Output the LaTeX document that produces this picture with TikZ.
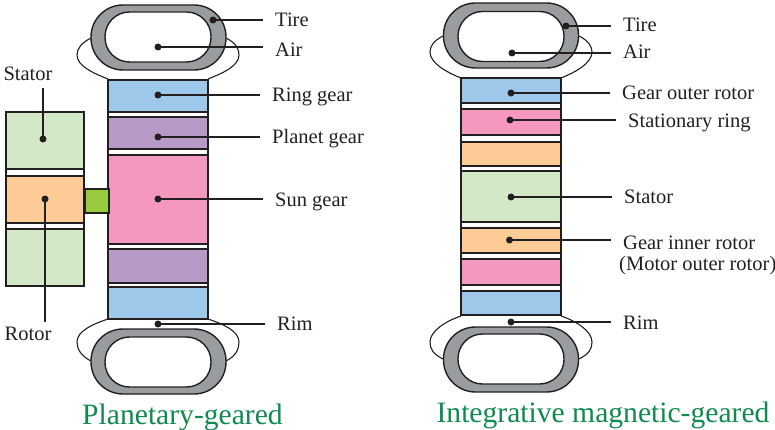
\documentclass[tikz,border=0pt]{standalone}
\usepackage{fontspec}
\setmainfont{Liberation Serif}
\usetikzlibrary{positioning,calc}

\definecolor{inkgray}{HTML}{231F20}
\definecolor{tiregray}{HTML}{9A9DA0}
\definecolor{ringblue}{HTML}{9DC8EA}
\definecolor{planetpurple}{HTML}{B89AC8}
\definecolor{sunpink}{HTML}{F498C0}
\definecolor{statorgreen}{HTML}{D3E8C6}
\definecolor{rotororange}{HTML}{FDCB95}
\definecolor{shaftgreen}{HTML}{99CC3C}
\definecolor{titlegreen}{HTML}{108A50}

\tikzset{
  blockbox/.style={draw=inkgray, line width=1.4pt, inner sep=0pt, minimum width=100pt},
  heavybox/.style={blockbox, line width=1.9pt},
  sidebox/.style={draw=inkgray, line width=1.3pt, inner sep=0pt, minimum width=78pt},
  tirebox/.style={draw=inkgray, line width=1.4pt, fill=tiregray, inner sep=0pt, rounded corners=32pt, minimum width=135pt, minimum height=65pt},
  airbox/.style={draw=inkgray, line width=1.4pt, fill=white, inner sep=0pt, rounded corners=24.5pt, minimum width=106pt, minimum height=50pt},
  flange/.style={draw=inkgray, line width=1.1pt},
  dotmark/.style={circle, fill=inkgray, inner sep=0pt, minimum size=7pt},
  leader/.style={draw=inkgray, line width=1.1pt},
  partlabel/.style={anchor=west, inner ysep=0pt, inner xsep=12pt, text=inkgray, font=\fontsize{20.5}{24}\selectfont, text height=16pt, text depth=2pt},
  sidelabel/.style={inner sep=0pt, text=inkgray, font=\fontsize{20.5}{24}\selectfont},
  titlelabel/.style={inner sep=0pt, text=titlegreen, font=\fontsize{29.6}{32}\selectfont}
}

\begin{document}
\begin{tikzpicture}[x=1pt,y=-1pt]
  \useasboundingbox (0,0) rectangle (775,430);

  % Planetary-geared: rim flanges
  \draw[flange] (91,38) .. controls (81,43) and (77,49) .. (77,55) .. controls (77,66) and (93,73) .. (108,79);
  \draw[flange] (226,38) .. controls (236,43) and (239,49) .. (239,55) .. controls (239,66) and (223,73) .. (208,79);
  \draw[flange] (108,319) .. controls (93,324) and (77,331) .. (77,342) .. controls (77,349) and (81,356) .. (91,361);
  \draw[flange] (208,319) .. controls (223,324) and (239,331) .. (239,342) .. controls (239,349) and (236,356) .. (226,361);

  % Planetary-geared: tires
  \node[tirebox] (tireA) at (158.5,37.5) {};
  \node[airbox] (airA) at (158,37) {};
  \node[tirebox] (tireB) at (158.5,361.5) {};
  \node[airbox] (airB) at (158,362) {};

  % Planetary-geared: gear stack
  \node[blockbox, minimum height=239pt, fill=white] (frameA) at (158,199.5) {};
  \node[blockbox, fill=ringblue, minimum height=32pt] (ringA) at (158,96) {};
  \node[blockbox, fill=planetpurple, minimum height=32pt] (planetA) at (158,133) {};
  \node[blockbox, fill=sunpink, minimum height=89pt] (sunA) at (158,199.5) {};
  \node[blockbox, fill=planetpurple, minimum height=34pt] (planetB) at (158,266) {};
  \node[blockbox, fill=ringblue, minimum height=32pt] (ringB) at (158,303) {};

  % Motor on the left
  \node[sidebox, fill=white, minimum height=174pt] (frameS) at (45,199) {};
  \node[sidebox, fill=statorgreen, minimum height=57pt] (statorA) at (45,140.5) {};
  \node[sidebox, fill=rotororange, minimum height=47pt] (rotorA) at (45,199.5) {};
  \node[sidebox, fill=statorgreen, minimum height=57pt] (statorB) at (45,257.5) {};
  \node[draw=inkgray, line width=1.2pt, fill=shaftgreen, inner sep=0pt, minimum width=24pt, minimum height=24pt] (shaftA) at (97,201) {};

  % Integrative magnetic-geared: rim flanges
  \draw[flange] (443,36) .. controls (433,41) and (430,47) .. (430,52) .. controls (430,63) and (446,72) .. (461,78);
  \draw[flange] (579,36) .. controls (589,41) and (592,47) .. (592,52) .. controls (592,63) and (576,72) .. (561,78);
  \draw[flange] (461,316) .. controls (446,321) and (430,331) .. (430,342) .. controls (430,349) and (433,354) .. (443,359);
  \draw[flange] (561,316) .. controls (576,321) and (592,331) .. (592,342) .. controls (592,349) and (589,354) .. (579,359);

  % Integrative magnetic-geared: tires
  \node[tirebox] (tireC) at (511,35.5) {};
  \node[airbox] (airC) at (511,36.5) {};
  \node[tirebox] (tireD) at (511,359.5) {};
  \node[airbox] (airD) at (511,359) {};

  % Integrative magnetic-geared: stack
  \node[heavybox, minimum height=237pt, fill=white] (frameC) at (511,196.5) {};
  \node[heavybox, fill=ringblue, minimum height=25pt] (outerC) at (511,90.5) {};
  \node[heavybox, fill=sunpink, minimum height=26pt] (ringC) at (511,122) {};
  \node[heavybox, fill=rotororange, minimum height=24pt] (innerE) at (511,154) {};
  \node[heavybox, fill=statorgreen, minimum height=51pt] (statorC) at (511,196.5) {};
  \node[heavybox, fill=rotororange, minimum height=25pt] (innerC) at (511,240.5) {};
  \node[heavybox, fill=sunpink, minimum height=26pt] (ringE) at (511,272) {};
  \node[heavybox, fill=ringblue, minimum height=24pt] (outerE) at (511,303) {};

  % Dots
  \node[dotmark] (tiredotA) at (213,20) {};
  \node[dotmark] (airdotA) at (158,47) {};
  \node[dotmark] (ringdotA) at (158,95) {};
  \node[dotmark] (planetdotA) at (158,137) {};
  \node[dotmark] (sundotA) at (158,199) {};
  \node[dotmark] (rimdotA) at (158,324) {};
  \node[dotmark] (statordot) at (43,139) {};
  \node[dotmark] (rotordot) at (45,199) {};
  \node[dotmark] (tiredotC) at (566,26) {};
  \node[dotmark] (airdotC) at (512,53) {};
  \node[dotmark] (outerdotC) at (511,93) {};
  \node[dotmark] (ringdotC) at (510,120) {};
  \node[dotmark] (statordotC) at (511,197) {};
  \node[dotmark] (innerdotC) at (509.5,240) {};
  \node[dotmark] (rimdotC) at (511,322) {};

  % Labels
  \node[partlabel] (tirelabelA) at (263,19.5) {Tire};
  \node[partlabel] (airlabelA) at (263,49.5) {Air};
  \node[partlabel] (ringlabelA) at (260,94.5) {Ring gear};
  \node[partlabel] (planetlabelA) at (260,137) {Planet gear};
  \node[partlabel] (sunlabelA) at (263,200) {Sun gear};
  \node[partlabel] (rimlabelA) at (265,323) {Rim};
  \node[sidelabel] (statorlabel) at (28,74) {Stator};
  \node[sidelabel] (rotorlabel) at (28,334) {Rotor};
  \node[partlabel] (tirelabelC) at (611,25) {Tire};
  \node[partlabel] (airlabelC) at (611,52) {Air};
  \node[partlabel] (outerlabelC) at (610,93) {Gear outer rotor};
  \node[partlabel] (ringlabelC) at (616,121) {Stationary ring};
  \node[partlabel] (statorlabelC) at (612,197) {Stator};
  \node[partlabel] (innerlabelC) at (611,242) {Gear inner rotor};
  \node[sidelabel, anchor=west] (motorlabelC) at (619,266) {(Motor outer rotor)};
  \node[partlabel] (rimlabelC) at (611,322) {Rim};

  % Leaders
  \coordinate (statorend) at (43,88);
  \coordinate (rotorend) at (45,322);
  \draw[leader] (tiredotA.center) -- (tiredotA -| tirelabelA.west);
  \draw[leader] (airdotA.center) -- (airdotA -| airlabelA.west);
  \draw[leader] (ringdotA.center) -- (ringdotA -| ringlabelA.west);
  \draw[leader] (planetdotA.center) -- (planetdotA -| planetlabelA.west);
  \draw[leader] (sundotA.center) -- (sundotA -| sunlabelA.west);
  \draw[leader] (rimdotA.center) -- (rimdotA -| rimlabelA.west);
  \draw[leader] (statordot.center) -- (statorend);
  \draw[leader] (rotordot.center) -- (rotorend);
  \draw[leader] (tiredotC.center) -- (tiredotC -| tirelabelC.west);
  \draw[leader] (airdotC.center) -- (airdotC -| airlabelC.west);
  \draw[leader] (outerdotC.center) -- (outerdotC -| outerlabelC.west);
  \draw[leader] (ringdotC.center) -- (ringdotC -| ringlabelC.west);
  \draw[leader] (statordotC.center) -- (statordotC -| statorlabelC.west);
  \draw[leader] (innerdotC.center) -- (innerdotC -| innerlabelC.west);
  \draw[leader] (rimdotC.center) -- (rimdotC -| rimlabelC.west);

  % Titles
  \node[titlelabel] (titleA) at (182.5,417) {Planetary-geared};
  \node[titlelabel] (titleC) at (603,415) {Integrative magnetic-geared};
\end{tikzpicture}
\end{document}
